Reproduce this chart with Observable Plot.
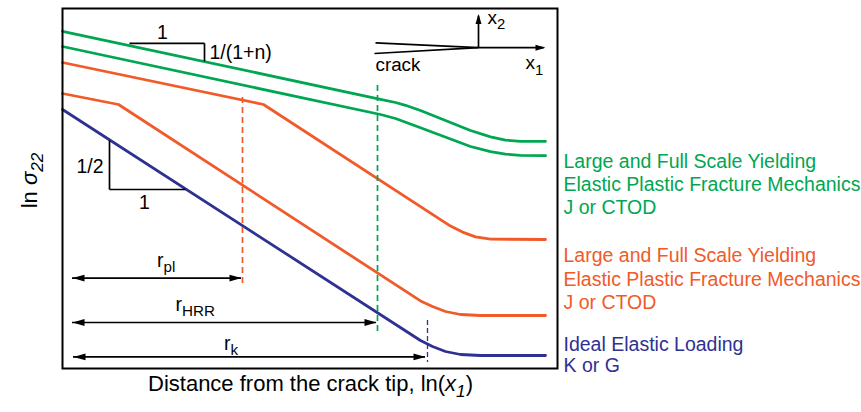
<!DOCTYPE html>
<html><head><meta charset="utf-8">
<script src="https://cdn.jsdelivr.net/npm/d3@7"></script>
<script src="https://cdn.jsdelivr.net/npm/@observablehq/plot@0.6"></script>
<style>body{margin:0;background:#fff}</style>
</head><body><div id="chart"></div>
<script>
const GREEN = "#00a651", ORANGE = "#f15a29", BLUE = "#2e3192";
const FONT = "'Liberation Sans', Arial, Helvetica, sans-serif";

// stress profiles: [ln x1, ln sigma22] in arbitrary units
const greenUpper = [[0,84.3],[63.6,67.3],[66.6,66.5],[68.6,65.8],[71.6,64.5],[81.6,59.5],[85.6,57.9],[88.6,57.1],[91.6,56.8],[96.6,56.8]];
const greenLower = [[0,80.5],[63.6,63.5],[66.6,62.5],[71.6,60.2],[81.6,55.5],[85.6,54.2],[88.6,53.6],[91.6,53.3],[96.6,53.2]];
const orangeUpper = [[0,76.5],[40.2,66],[77.6,35.6],[80,34.1],[82.6,32.9],[85.6,32.35],[96.6,32.25]];
const orangeLower = [[0,68.75],[11.2,66],[71.6,16.9],[74,15.5],[76.6,14.25],[79.6,13.5],[83.6,13.25],[96.6,13.25]];
const elastic = [[0,64.75],[71.6,7],[74,5.5],[76.6,4.25],[79.6,3.5],[83.6,3.25],[96.6,3.25]];

// dashed zone boundaries
const boundaries = [
  {x: 36, y1: 67.75, y2: 20.75, color: ORANGE, width: 1.7, dash: "6,4"},
  {x: 63, y1: 70.75, y2: 8.5, color: GREEN, width: 1.7, dash: "6,4"},
  {x: 73, y1: 12, y2: 1.5, color: BLUE, width: 1.3, dash: "5,3"}
];

// size arrows (r_pl, r_HRR, r_k)
const sizeArrows = [
  {y: 22.6, x1: 2, x2: 35.8},
  {y: 11.5, x1: 2, x2: 62.8},
  {y: 2.9, x1: 2.2, x2: 72.6}
];

// slope triangles and crack sketch (black segments)
const segments = [
  {x1: 13.4, y1: 81.3, x2: 28.4, y2: 81.3},
  {x1: 28.4, y1: 81.3, x2: 28.4, y2: 76.8},
  {x1: 9.4, y1: 57, x2: 9.4, y2: 44.75},
  {x1: 9.4, y1: 44.75, x2: 24.6, y2: 44.75},
  {x1: 62.6, y1: 81.4, x2: 83.2, y2: 80.2},
  {x1: 62.4, y1: 78.75, x2: 83.2, y2: 80.2},
  {x1: 83.2, y1: 80.2, x2: 96.2, y2: 80.2},
  {x1: 83.2, y1: 80.2, x2: 83.2, y2: 88.2}
];
const crackHeads = [
  {x: 96.6, y: 80.2, rotate: 0},
  {x: 83.2, y: 88.6, rotate: -90}
];

// annotation labels (baseline positioned)
const labels = [
  {x: 20, y: 82.4, text: "1", anchor: "middle", size: 19.5},
  {x: 29.4, y: 77.5, text: "1/(1+n)", anchor: "start", size: 19.5},
  {x: 8.2, y: 49, text: "1/2", anchor: "end", size: 19.5},
  {x: 16.4, y: 39.9, text: "1", anchor: "middle", size: 19.5},
  {x: 18.9, y: 25.5, text: "r_{pl}", anchor: "start", size: 19.5},
  {x: 22.6, y: 14.5, text: "r_{HRR}", anchor: "start", size: 19.5},
  {x: 32.3, y: 4.75, text: "r_{k}", anchor: "start", size: 19.5},
  {x: 62.6, y: 74.5, text: "crack", anchor: "start", size: 18.8},
  {x: 92.6, y: 74.9, text: "x_{1}", anchor: "start", size: 19},
  {x: 85, y: 86.2, text: "x_{2}", anchor: "start", size: 19}
];

// regime legend at the right
const regimeLines = [
  {y: 50.2, text: "Large and Full Scale Yielding", color: GREEN},
  {y: 44.5, text: "Elastic Plastic Fracture Mechanics", color: GREEN},
  {y: 38.75, text: "J or CTOD", color: GREEN},
  {y: 26.6, text: "Large and Full Scale Yielding", color: ORANGE},
  {y: 20.75, text: "Elastic Plastic Fracture Mechanics", color: ORANGE},
  {y: 15, text: "J or CTOD", color: ORANGE},
  {y: 4.3, text: "Ideal Elastic Loading", color: BLUE},
  {y: -0.9, text: "K or G", color: BLUE}
];

const xTitle = "Distance from the crack tip, ln(~{x}~_{1})";
const yTitle = "ln ~{σ}~_{22}";

const head = (len, hw) => ({draw(ctx) { ctx.moveTo(0, 0); ctx.lineTo(-len, -hw); ctx.lineTo(-len, hw); ctx.closePath(); }});

const curve = (data, color) => Plot.line(data, {x: d => d[0], y: d => d[1], stroke: color, strokeWidth: 2.8, strokeLinejoin: "round"});

const marks = [
  curve(greenUpper, GREEN), curve(greenLower, GREEN),
  curve(orangeUpper, ORANGE), curve(orangeLower, ORANGE),
  curve(elastic, BLUE),
  ...boundaries.map(b => Plot.ruleX([b], {x: "x", y1: "y1", y2: "y2", stroke: b.color, strokeWidth: b.width, strokeDasharray: b.dash})),
  Plot.ruleY(sizeArrows, {y: "y", x1: "x1", x2: "x2", stroke: "black", strokeWidth: 1.7}),
  Plot.dot(sizeArrows, {x: "x2", y: "y", symbol: head(12, 3.4), fill: "black", stroke: "none"}),
  Plot.dot(sizeArrows, {x: "x1", y: "y", symbol: head(12, 3.4), fill: "black", stroke: "none", rotate: 180}),
  Plot.link(segments, {x1: "x1", y1: "y1", x2: "x2", y2: "y2", stroke: "black", strokeWidth: 1.7}),
  ...crackHeads.map(h => Plot.dot([h], {x: "x", y: "y", symbol: head(10, 3), fill: "black", stroke: "none", rotate: h.rotate})),
  ...labels.map(l => Plot.text([l], {x: "x", y: "y", text: "text", textAnchor: l.anchor, lineAnchor: "bottom", fontSize: l.size, fill: "black"})),
  Plot.text(regimeLines, {x: 100.2, y: "y", text: "text", fill: "color", textAnchor: "start", lineAnchor: "bottom", fontSize: 19.5}),
  Plot.text([xTitle], {x: 49.6, y: -5.5, text: d => d, textAnchor: "middle", lineAnchor: "bottom", fontSize: 22, fill: "black"}),
  Plot.text([yTitle], {x: -6.6, y: 47, text: d => d, textAnchor: "middle", lineAnchor: "middle", rotate: -90, fontSize: 22, fill: "black"}),
  Plot.frame({stroke: "black", strokeWidth: 2})
];

const chart = Plot.plot({
  width: 861, height: 412,
  marginLeft: 62, marginRight: 304, marginTop: 8, marginBottom: 44,
  x: {domain: [0, 99], axis: null},
  y: {domain: [0, 90], axis: null},
  style: {fontFamily: FONT, background: "white", overflow: "visible"},
  marks
});
document.getElementById("chart").appendChild(chart);

// rich text: _{..} subscript, ~{..} italic, ~_{..} italic subscript
function richify(root) {
  root.querySelectorAll("text").forEach(t => {
    const target = (t.children.length === 1 && t.firstElementChild.tagName === "tspan") ? t.firstElementChild : t;
    const s = target.textContent;
    if (!/[_~]\{/.test(s)) return;
    const fs = parseFloat(getComputedStyle(t).fontSize) || 16;
    target.textContent = "";
    const re = /(~_|~|_)\{([^}]*)\}|([^~_]+)/g;
    let m, shifted = false;
    while ((m = re.exec(s))) {
      const ts = document.createElementNS("http://www.w3.org/2000/svg", "tspan");
      const kind = m[1] || "";
      ts.textContent = m[1] ? m[2] : m[3];
      if (kind.includes("~")) ts.setAttribute("font-style", "italic");
      if (kind.includes("_")) {
        ts.setAttribute("font-size", fs * 0.78);
        if (!shifted) { ts.setAttribute("dy", fs * 0.3); shifted = true; }
      } else if (shifted) { ts.setAttribute("dy", -fs * 0.3); shifted = false; }
      target.appendChild(ts);
    }
  });
}
richify(chart);
</script>
</body></html>
